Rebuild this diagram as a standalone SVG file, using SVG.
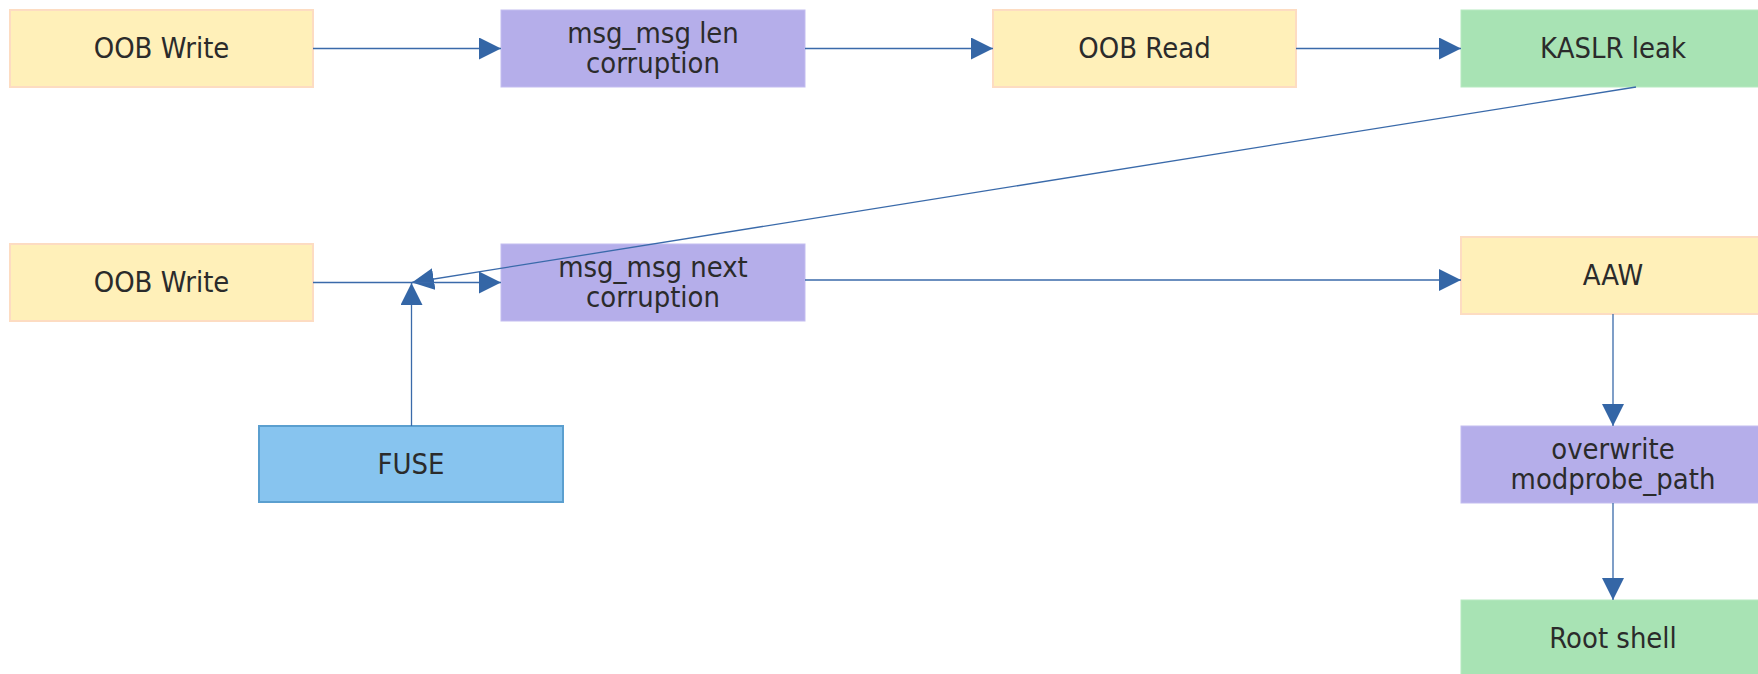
<svg xmlns="http://www.w3.org/2000/svg" width="1758" height="674" viewBox="0 0 1758 674">
  <style>
    .box rect { stroke-width: 2; }
    .yellow rect { fill: #fff0b9; stroke: #fddcc2; }
    .purple rect { fill: #b5aeea; stroke: #c3bdf0; stroke-width: 1; }
    .green rect { fill: #a8e3b4; stroke: #b6e9c0; stroke-width: 1; }
    .blue rect { fill: #87c4ef; stroke: #5b9fcf; }
    .box text {
      font-family: "DejaVu Sans", sans-serif;
      font-size: 26px;
      fill: #2b2b2b;
      text-anchor: middle;
      dominant-baseline: central;
    }
    .edges line { stroke: #3a6aaa; stroke-width: 1.3; fill: none; marker-end: url(#arrow); }
  </style>
  <defs>
    <marker id="arrow" viewBox="0 0 10 10" refX="10" refY="5" markerUnits="userSpaceOnUse" markerWidth="22" markerHeight="22" orient="auto">
      <path d="M0,0 L10,5 L0,10 z" fill="#3466a6"/>
    </marker>
  </defs>
  <rect width="1758" height="674" fill="#ffffff"/>

  <!-- labels are drawn at the origin and placed with translate + a slight vertical stretch -->
  <g id="oob-write-1" class="box yellow">
    <rect x="10" y="10" width="303" height="77"/>
    <text transform="translate(161.5 48.5) scale(1 1.1)">OOB Write</text>
  </g>
  <g id="msg-len" class="box purple">
    <rect x="501" y="10" width="304" height="77"/>
    <text transform="translate(653 33.5) scale(1 1.1)">msg_msg len</text>
    <text transform="translate(653 63.5) scale(1 1.1)">corruption</text>
  </g>
  <g id="oob-read" class="box yellow">
    <rect x="993" y="10" width="303" height="77"/>
    <text transform="translate(1144.5 48.5) scale(1 1.1)">OOB Read</text>
  </g>
  <g id="kaslr-leak" class="box green">
    <rect x="1461" y="10" width="304" height="77"/>
    <text transform="translate(1613 48.5) scale(1 1.1)">KASLR leak</text>
  </g>
  <g id="oob-write-2" class="box yellow">
    <rect x="10" y="244" width="303" height="77"/>
    <text transform="translate(161.5 282.5) scale(1 1.1)">OOB Write</text>
  </g>
  <g id="msg-next" class="box purple">
    <rect x="501" y="244" width="304" height="77"/>
    <text transform="translate(653 267.5) scale(1 1.1)">msg_msg next</text>
    <text transform="translate(653 297.5) scale(1 1.1)">corruption</text>
  </g>
  <g id="aaw" class="box yellow">
    <rect x="1461" y="237" width="304" height="77"/>
    <text transform="translate(1613 275.5) scale(1 1.1)">AAW</text>
  </g>
  <g id="fuse" class="box blue">
    <rect x="259" y="426" width="304" height="76"/>
    <text transform="translate(411 464) scale(1 1.1)">FUSE</text>
  </g>
  <g id="modprobe" class="box purple">
    <rect x="1461" y="426" width="304" height="77"/>
    <text transform="translate(1613 449.5) scale(1 1.1)">overwrite</text>
    <text transform="translate(1613 479.5) scale(1 1.1)">modprobe_path</text>
  </g>
  <g id="root-shell" class="box green">
    <rect x="1461" y="600" width="304" height="77"/>
    <text transform="translate(1613 638.5) scale(1 1.1)">Root shell</text>
  </g>

  <!-- connectors are painted last so the long KASLR edge stays visible across the boxes -->
  <g id="edges" class="edges">
    <line x1="313" y1="48.5" x2="501" y2="48.5"/>
    <line x1="805" y1="48.5" x2="993" y2="48.5"/>
    <line x1="1296" y1="48.5" x2="1461" y2="48.5"/>
    <line x1="1636" y1="87" x2="412" y2="282.5"/>
    <line x1="313" y1="282.5" x2="501" y2="282.5"/>
    <line x1="411.5" y1="426" x2="411.5" y2="283"/>
    <line x1="805" y1="280" x2="1461" y2="280"/>
    <line x1="1613" y1="314" x2="1613" y2="426"/>
    <line x1="1613" y1="503" x2="1613" y2="600"/>
  </g>
</svg>
